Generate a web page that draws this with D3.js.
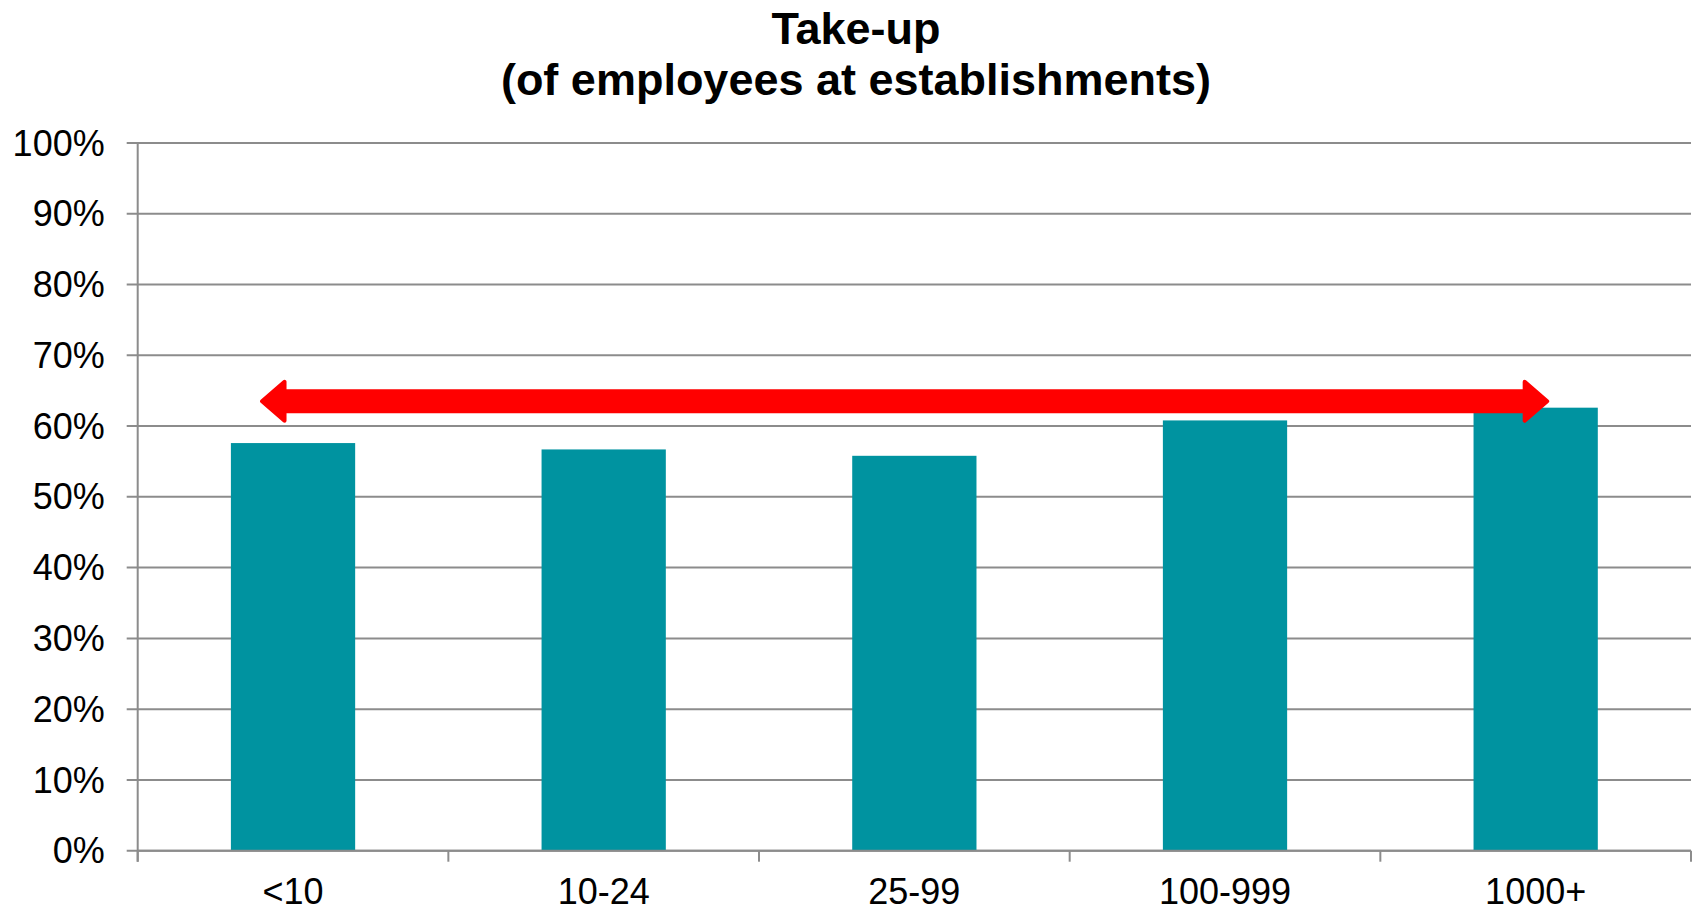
<!DOCTYPE html>
<html>
<head>
<meta charset="utf-8">
<script src="https://cdn.jsdelivr.net/npm/d3@7"></script>
<style>
  html, body { margin: 0; padding: 0; background: #fff; }
  svg { display: block; }
  text { font-family: "Liberation Sans", Arial, sans-serif; fill: #000; }
</style>
</head>
<body>
<svg id="chart" width="1694" height="912"></svg>
<script>
// Take-up by establishment size
const categories = ["<10", "10-24", "25-99", "100-999", "1000+"];
const takeUp = [0.576, 0.567, 0.558, 0.608, 0.626];
const yTicks = [0, 0.1, 0.2, 0.3, 0.4, 0.5, 0.6, 0.7, 0.8, 0.9, 1.0];
const titleLines = ["Take-up", "(of employees at establishments)"];
// level of the double-headed range arrow spanning the size bands
const arrowLevel = 0.635;

const W = 1694, H = 912;
const margin = { top: 143, right: 3, bottom: 61.3, left: 137.7 };
const svg = d3.select("#chart");

const x = d3.scaleBand()
  .domain(categories)
  .range([margin.left, W - margin.right])
  .paddingInner(0.6)
  .paddingOuter(0.3);

const y = d3.scaleLinear()
  .domain([0, 1])
  .range([H - margin.bottom, margin.top]);

const gridColor = "#8c8c8c";

// horizontal gridlines with short outside ticks
svg.append("g")
  .selectAll("line")
  .data(yTicks)
  .join("line")
  .attr("x1", margin.left - 11)
  .attr("x2", W - margin.right)
  .attr("y1", d => y(d))
  .attr("y2", d => y(d))
  .attr("stroke", gridColor)
  .attr("stroke-width", 2);

// y axis line
svg.append("line")
  .attr("x1", margin.left).attr("x2", margin.left)
  .attr("y1", y(1)).attr("y2", y(0) + 11)
  .attr("stroke", gridColor).attr("stroke-width", 2);

// y tick labels
svg.append("g")
  .selectAll("text")
  .data(yTicks)
  .join("text")
  .attr("x", margin.left - 33)
  .attr("y", d => y(d))
  .attr("dy", "0.35em")
  .attr("text-anchor", "end")
  .style("font-size", "36px")
  .text(d => d3.format(".0%")(d));

// category boundary ticks on the x axis
const step = x.step();
const boundaries = d3.range(categories.length + 1).map(i => margin.left + i * step);
svg.append("g")
  .selectAll("line")
  .data(boundaries)
  .join("line")
  .attr("x1", d => d).attr("x2", d => d)
  .attr("y1", y(0)).attr("y2", y(0) + 11)
  .attr("stroke", gridColor).attr("stroke-width", 2);

// bars
svg.append("g")
  .selectAll("rect")
  .data(categories.map((c, i) => ({ c, v: takeUp[i] })))
  .join("rect")
  .attr("x", d => x(d.c))
  .attr("width", x.bandwidth())
  .attr("y", d => y(d.v))
  .attr("height", d => y(0) - y(d.v))
  .attr("fill", "#0093a0");

// x axis baseline over bar bottoms
svg.append("line")
  .attr("x1", margin.left).attr("x2", W - margin.right)
  .attr("y1", y(0)).attr("y2", y(0))
  .attr("stroke", gridColor).attr("stroke-width", 2);

// category labels
svg.append("g")
  .selectAll("text")
  .data(categories)
  .join("text")
  .attr("x", d => x(d) + x.bandwidth() / 2)
  .attr("y", H - 8.5)
  .attr("text-anchor", "middle")
  .style("font-size", "36px")
  .text(d => d);

// double-headed red arrow
const cy = y(arrowLevel);
const leftTip = x(categories[0]) + x.bandwidth() / 2 - 31;
const rightTip = x(categories[categories.length - 1]) + x.bandwidth() / 2 + 11.5;
const headLen = 22.5, headHalf = 19.5, shaftHalf = 10;
const arrowPts = [
  [leftTip, cy],
  [leftTip + headLen, cy - headHalf],
  [leftTip + headLen, cy - shaftHalf],
  [rightTip - headLen, cy - shaftHalf],
  [rightTip - headLen, cy - headHalf],
  [rightTip, cy],
  [rightTip - headLen, cy + headHalf],
  [rightTip - headLen, cy + shaftHalf],
  [leftTip + headLen, cy + shaftHalf],
  [leftTip + headLen, cy + headHalf]
];
svg.append("path")
  .attr("d", d3.line()(arrowPts) + "Z")
  .attr("fill", "#ff0000")
  .attr("stroke", "#ff0000")
  .attr("stroke-width", 4)
  .attr("stroke-linejoin", "round");

// title
const title = svg.append("text")
  .attr("text-anchor", "middle")
  .style("font-size", "45px")
  .style("font-weight", "bold");
title.selectAll("tspan")
  .data(titleLines)
  .join("tspan")
  .attr("x", 856)
  .attr("y", (d, i) => 44 + i * 51)
  .text(d => d);
</script>
</body>
</html>
